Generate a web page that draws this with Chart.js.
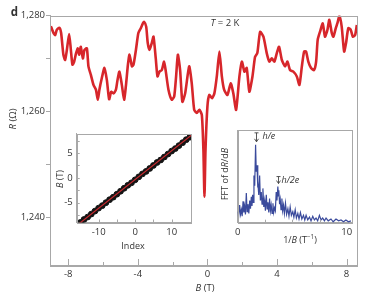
<!DOCTYPE html>
<html>
<head>
<meta charset="utf-8">
<script src="https://cdn.jsdelivr.net/npm/chart.js@4.4.1/dist/chart.umd.min.js"></script>
<style>
  html, body { margin: 0; padding: 0; background: #fff; }
  #wrap { position: relative; width: 374px; height: 297px; overflow: hidden; }
  canvas { position: absolute; }
</style>
</head>
<body>
<div id="wrap">
  <canvas id="mainChart" width="374" height="297" style="left:0;top:0"></canvas>
  <canvas id="indexChart" width="146" height="130" style="left:50px;top:124px"></canvas>
  <canvas id="fftChart" width="140" height="126" style="left:218px;top:124px"></canvas>
</div>
<script>
// main trace: R(B) at 2 K
const fieldB = [
  -9.0, -8.85, -8.75, -8.66, -8.51, -8.41, -8.28, -8.18, -8.08, -7.95,
  -7.85, -7.76, -7.66, -7.55, -7.45, -7.37, -7.28, -7.16, -7.07, -6.93,
  -6.84, -6.70, -6.55, -6.41, -6.30, -6.21, -6.07, -5.92, -5.78, -5.65,
  -5.53, -5.40, -5.26, -5.17, -5.06, -4.92, -4.79, -4.69, -4.57, -4.48,
  -4.34, -4.25, -4.11, -3.97, -3.83, -3.71, -3.64, -3.52, -3.43, -3.33,
  -3.20, -3.10, -2.97, -2.87, -2.76, -2.62, -2.49, -2.39, -2.24, -2.05,
  -1.91, -1.80, -1.70, -1.57, -1.44, -1.28, -1.05, -0.90, -0.76, -0.61,
  -0.46, -0.32, -0.23, -0.17, -0.11, 0.00, 0.11, 0.27, 0.40, 0.54,
  0.69, 0.83, 0.96, 1.15, 1.34, 1.49, 1.65, 1.84, 1.98, 2.13,
  2.26, 2.41, 2.59, 2.74, 2.87, 3.03, 3.22, 3.41, 3.56, 3.70,
  3.85, 3.99, 4.12, 4.28, 4.47, 4.60, 4.75, 4.94, 5.14, 5.29,
  5.43, 5.56, 5.67, 5.80, 5.96, 6.13, 6.25, 6.34, 6.48, 6.63,
  6.76, 6.90, 7.01, 7.15, 7.24, 7.38, 7.47, 7.59, 7.72, 7.86,
  7.97, 8.10, 8.24, 8.36, 8.49, 8.59
];
const resistance = [
  1276.1, 1274.8, 1274.4, 1275.4, 1275.8, 1274.8, 1270.7, 1269.7, 1271.6, 1274.6,
  1271.6, 1268.8, 1269.4, 1271.0, 1271.9, 1270.7, 1272.2, 1270.0, 1271.6, 1271.9,
  1268.5, 1266.9, 1265.0, 1264.1, 1262.2, 1264.1, 1266.3, 1268.2, 1265.9, 1262.3,
  1263.7, 1263.4, 1264.1, 1265.9, 1267.5, 1265.0, 1262.2, 1264.7, 1268.8, 1270.7,
  1268.5, 1268.8, 1271.6, 1274.8, 1275.7, 1276.6, 1276.9, 1276.0, 1272.9, 1271.6,
  1272.9, 1274.1, 1270.0, 1266.6, 1267.5, 1267.8, 1269.4, 1267.5, 1264.1, 1262.2,
  1262.8, 1266.6, 1270.7, 1267.8, 1261.8, 1263.4, 1268.5, 1265.3, 1260.3, 1259.7,
  1260.3, 1259.3, 1252.7, 1243.9, 1252.7, 1260.9, 1263.1, 1262.5, 1263.4, 1266.6,
  1271.3, 1266.6, 1264.1, 1263.1, 1265.3, 1263.4, 1260.3, 1266.6, 1269.4, 1267.5,
  1268.2, 1263.7, 1266.6, 1270.3, 1271.0, 1275.0, 1274.1, 1271.0, 1269.4, 1270.0,
  1269.4, 1271.0, 1272.2, 1269.7, 1268.5, 1269.4, 1267.8, 1267.5, 1266.6, 1265.0,
  1268.5, 1271.3, 1271.3, 1269.4, 1268.2, 1267.8, 1269.4, 1273.5, 1275.1, 1276.6,
  1274.1, 1275.4, 1277.3, 1274.8, 1274.1, 1275.7, 1276.6, 1278.0, 1276.0, 1271.3,
  1272.9, 1275.7, 1275.4, 1274.1, 1274.4, 1276.3
];
const bTicks = [-8, -6, -4, -2, 0, 2, 4, 6, 8];
const rTicks = [1240, 1250, 1260, 1270, 1278.1];
const rLabels = ['1,240', '', '1,260', '', '1,280'];

// inset 1: peak index vs field, with linear fit
const peakIndex = [-15, -14, -13, -12, -11, -10, -9, -8, -7, -6, -5, -4, -3, -2, -1, 0,
  1, 2, 3, 4, 5, 6, 7, 8, 9, 10, 11, 12, 13, 14, 15];
const peakField = [-9.0, -8.4, -7.9, -7.3, -6.7, -6.1, -5.6, -5.0, -4.4, -3.9, -3.3, -2.7, -2.1, -1.5, -1.0, -0.4,
  0.2, 0.8, 1.3, 1.9, 2.5, 3.1, 3.6, 4.2, 4.8, 5.4, 5.9, 6.5, 7.1, 7.7, 8.2];
const fitIndex = [-15.8, 15.4];
const fitField = [-9.5, 8.6];

// inset 2: FFT of dR/dB (arb. units)
const fftFreq = [
  0.00, 0.08, 0.18, 0.26, 0.34, 0.41, 0.49, 0.56, 0.64, 0.71,
  0.79, 0.86, 0.94, 1.02, 1.10, 1.17, 1.25, 1.31, 1.37, 1.43,
  1.49, 1.56, 1.64, 1.70, 1.77, 1.82, 1.86, 1.93, 2.01, 2.08,
  2.16, 2.23, 2.31, 2.39, 2.47, 2.54, 2.62, 2.70, 2.77, 2.85,
  2.92, 3.00, 3.07, 3.15, 3.23, 3.30, 3.38, 3.45, 3.53, 3.60,
  3.68, 3.73, 3.77, 3.84, 3.90, 3.97, 4.05, 4.12, 4.20, 4.28,
  4.38, 4.48, 4.60, 4.70, 4.81, 4.92, 5.05, 5.15, 5.27, 5.38,
  5.51, 5.62, 5.75, 5.88, 6.03, 6.15, 6.27, 6.42, 6.58, 6.72,
  6.88, 7.03, 7.18, 7.33, 7.49, 7.64, 7.79, 7.95, 8.10, 8.30,
  8.55, 8.75, 9.01, 9.25, 9.47, 9.70, 9.92, 10.15, 10.38
];
const fftAmp = [
  0.12, 0.06, 0.19, 0.09, 0.14, 0.07, 0.23, 0.11, 0.17, 0.09,
  0.32, 0.12, 0.20, 0.10, 0.24, 0.15, 0.28, 0.18, 0.30, 0.22,
  0.51, 0.40, 0.84, 0.55, 0.62, 0.38, 0.45, 0.30, 0.51, 0.24,
  0.33, 0.20, 0.37, 0.17, 0.24, 0.13, 0.30, 0.15, 0.22, 0.11,
  0.26, 0.13, 0.19, 0.10, 0.21, 0.11, 0.16, 0.13, 0.33, 0.24,
  0.39, 0.29, 0.35, 0.20, 0.25, 0.14, 0.26, 0.13, 0.19, 0.10,
  0.21, 0.09, 0.15, 0.07, 0.17, 0.08, 0.12, 0.06, 0.14, 0.05,
  0.10, 0.04, 0.11, 0.04, 0.08, 0.03, 0.08, 0.03, 0.06, 0.02,
  0.07, 0.03, 0.05, 0.02, 0.08, 0.03, 0.05, 0.02, 0.05, 0.02,
  0.04, 0.01, 0.04, 0.02, 0.03, 0.01, 0.03, 0.01, 0.02
];
const hePeak = 1.64;
const h2ePeak = 3.68;

const axisGray = '#a8a8a8';
const textColor = '#333';
const fam = '"Open Sans", "Noto Sans", sans-serif';
const tickFont = { family: fam, size: 9.5 };

// text made of plain / italic / bold / superscript pieces
function drawRich(ctx, parts, x, y, size, rot, align) {
  const fontFor = st => (st === 'i' ? 'italic ' : st === 'b' ? 'bold ' : '') +
    (st === 'sup' ? size * 0.7 : size) + 'px ' + fam;
  ctx.save();
  ctx.translate(x, y);
  if (rot) ctx.rotate(rot);
  ctx.fillStyle = textColor;
  ctx.textBaseline = 'middle';
  ctx.textAlign = 'left';
  let w = 0;
  parts.forEach(([t, st]) => { ctx.font = fontFor(st); w += ctx.measureText(t).width; });
  let cx = align === 'left' ? 0 : -w / 2;
  parts.forEach(([t, st]) => {
    ctx.font = fontFor(st);
    ctx.fillText(t, cx, st === 'sup' ? -size * 0.35 : 0);
    cx += ctx.measureText(t).width;
  });
  ctx.restore();
}

// box round the plot area plus inward tick marks
function framePlugin(inTicks) {
  return {
    id: 'frame',
    afterDatasetsDraw(chart) {
      const { ctx, chartArea: a } = chart;
      ctx.save();
      ctx.strokeStyle = axisGray;
      ctx.lineWidth = 1;
      ctx.strokeRect(Math.round(a.left) + 0.5, Math.round(a.top) + 0.5,
        Math.round(a.right - a.left), Math.round(a.bottom - a.top));
      inTicks.forEach(t => {
        const s = chart.scales[t.axis];
        t.values.forEach(v => {
          const p = Math.round(s.getPixelForValue(v)) + 0.5;
          ctx.beginPath();
          if (t.axis === 'x') { ctx.moveTo(p, a.bottom); ctx.lineTo(p, a.bottom - t.len); }
          else { ctx.moveTo(a.left, p); ctx.lineTo(a.left + t.len, p); }
          ctx.stroke();
        });
      });
      ctx.restore();
    }
  };
}

function notesPlugin(items, extra) {
  return {
    id: 'notes',
    afterDraw(chart) {
      items.forEach(n => drawRich(chart.ctx, n.parts, n.x, n.y, n.size, n.rot, n.align));
      if (extra) extra(chart);
    }
  };
}

const base = {
  responsive: false,
  animation: false,
  plugins: { legend: { display: false }, tooltip: { enabled: false } }
};
const noGrid = { display: false, drawTicks: false, tickLength: 0 };

// ---- main chart ----
new Chart(document.getElementById('mainChart'), {
  type: 'line',
  data: {
    datasets: [{
      data: fieldB.map((b, i) => ({ x: b, y: resistance[i] })),
      borderColor: '#d7262b',
      borderWidth: 2.6,
      pointRadius: 0,
      tension: 0.2,
      fill: false
    }]
  },
  options: {
    ...base,
    layout: { padding: { top: 15.5, right: 17, left: 0, bottom: 0 } },
    scales: {
      x: {
        type: 'linear', min: -9.05, max: 8.6,
        afterBuildTicks: s => { s.ticks = bTicks.map(v => ({ value: v })); },
        afterFit: s => { s.height = 32; },
        grid: noGrid,
        border: { color: axisGray },
        ticks: { autoSkip: false, maxRotation: 0, padding: 4, font: tickFont, color: textColor,
          callback: v => (v % 4 === 0 ? String(v) : '') }
      },
      y: {
        min: 1231, max: 1278.1,
        afterBuildTicks: s => { s.ticks = rTicks.map(v => ({ value: v })); },
        afterFit: s => { s.width = 50; },
        grid: { drawOnChartArea: false, tickLength: 4, color: axisGray },
        border: { color: axisGray },
        ticks: { autoSkip: false, padding: 1, font: tickFont, color: textColor,
          callback: (v, i) => rLabels[i] }
      }
    }
  },
  plugins: [
    framePlugin([{ axis: 'x', values: [-8, -4, 0, 4, 8], len: 6 }, { axis: 'x', values: [-6, -2, 2, 6], len: 3 }]),
    notesPlugin([
      { parts: [['d', 'b']], x: 14.5, y: 13, size: 11.5 },
      { parts: [['T', 'i'], [' = 2 K', '']], x: 225, y: 23.5, size: 9.5 },
      { parts: [['R', 'i'], [' (Ω)', '']], x: 13, y: 119, size: 9.5, rot: -Math.PI / 2 },
      { parts: [['B', 'i'], [' (T)', '']], x: 205, y: 288, size: 9.5 }
    ])
  ]
});

// ---- inset: index ----
new Chart(document.getElementById('indexChart'), {
  type: 'scatter',
  data: {
    datasets: [
      {
        data: fitIndex.map((x, i) => ({ x, y: fitField[i] })),
        showLine: true, borderColor: '#c62a2f', borderWidth: 1.2, pointRadius: 0, order: 0
      },
      {
        data: peakIndex.map((x, i) => ({ x, y: peakField[i] })),
        backgroundColor: '#141414', borderColor: '#141414', pointRadius: 2.9, order: 1
      }
    ]
  },
  options: {
    ...base,
    layout: { padding: { top: 6.5, right: 5, left: 0, bottom: 0 } },
    scales: {
      x: {
        type: 'linear', min: -16, max: 15.3,
        afterBuildTicks: s => { s.ticks = [-10, 0, 10].map(v => ({ value: v })); },
        afterFit: s => { s.height = 31.5; },
        grid: noGrid,
        border: { color: axisGray },
        ticks: { autoSkip: false, maxRotation: 0, padding: 4, font: tickFont, color: textColor }
      },
      y: {
        min: -9, max: 8.9,
        afterBuildTicks: s => { s.ticks = [-5, 0, 5].map(v => ({ value: v })); },
        afterFit: s => { s.width = 26.7; },
        grid: noGrid,
        border: { color: axisGray },
        ticks: { autoSkip: false, padding: 4, font: tickFont, color: textColor }
      }
    }
  },
  plugins: [
    framePlugin([{ axis: 'x', values: [-10, -5, 0, 5, 10], len: 3 }, { axis: 'y', values: [-7.5, -5, -2.5, 0, 2.5, 5, 7.5], len: 3 }]),
    notesPlugin([
      { parts: [['Index', '']], x: 83, y: 122.7, size: 9 },
      { parts: [['B', 'i'], [' (T)', '']], x: 10, y: 55, size: 9, rot: -Math.PI / 2 }
    ])
  ]
});

// ---- inset: FFT ----
function markPeaks(chart) {
  const { ctx } = chart;
  const xs = chart.scales.x, ys = chart.scales.y;
  const marks = [
    { f: hePeak, gap: 3, len: 9, label: 'h/e', dx: 6 },
    { f: h2ePeak, gap: 3, len: 7, label: 'h/2e', dx: 3 }
  ];
  ctx.save();
  ctx.strokeStyle = '#444';
  ctx.lineWidth = 0.9;
  marks.forEach(m => {
    const i = fftFreq.indexOf(m.f);
    const x = Math.round(xs.getPixelForValue(fftFreq[i])) + 0.5;
    const yTip = ys.getPixelForValue(fftAmp[i]) - m.gap;
    const yTop = yTip - m.len;
    ctx.beginPath();
    ctx.moveTo(x, yTop); ctx.lineTo(x, yTip);
    ctx.moveTo(x - 2, yTip - 3); ctx.lineTo(x, yTip); ctx.lineTo(x + 2, yTip - 3);
    ctx.moveTo(x - 2, yTop); ctx.lineTo(x + 2, yTop);
    ctx.stroke();
    drawRich(ctx, [[m.label, 'i']], x + m.dx, yTop + 4, 9, 0, 'left');
  });
  ctx.restore();
}

new Chart(document.getElementById('fftChart'), {
  type: 'line',
  data: {
    datasets: [{
      data: fftFreq.map((f, i) => ({ x: f, y: fftAmp[i] })),
      borderColor: '#3a4a9c', borderWidth: 1.2, pointRadius: 0, tension: 0, fill: false
    }]
  },
  options: {
    ...base,
    layout: { padding: { top: 6, right: 6.3, left: 0, bottom: 0 } },
    scales: {
      x: {
        type: 'linear', min: 0, max: 10.45,
        afterBuildTicks: s => { s.ticks = [0, 10].map(v => ({ value: v })); },
        afterFit: s => { s.height = 27.3; },
        grid: noGrid,
        border: { color: axisGray },
        ticks: { autoSkip: false, maxRotation: 0, padding: 4, font: tickFont, color: textColor }
      },
      y: {
        min: 0, max: 1,
        afterFit: s => { s.width = 19.7; },
        grid: noGrid,
        border: { color: axisGray },
        ticks: { display: false }
      }
    }
  },
  plugins: [
    framePlugin([{ axis: 'x', values: [2.5, 5, 7.5], len: 3 }]),
    notesPlugin([
      { parts: [['FFT of d', ''], ['R', 'i'], ['/d', ''], ['B', 'i']], x: 7, y: 50, size: 9, rot: -Math.PI / 2 },
      { parts: [['1/', ''], ['B', 'i'], [' (T', ''], ['−1', 'sup'], [')', '']], x: 82, y: 116, size: 9 }
    ], markPeaks)
  ]
});
</script>
</body>
</html>
